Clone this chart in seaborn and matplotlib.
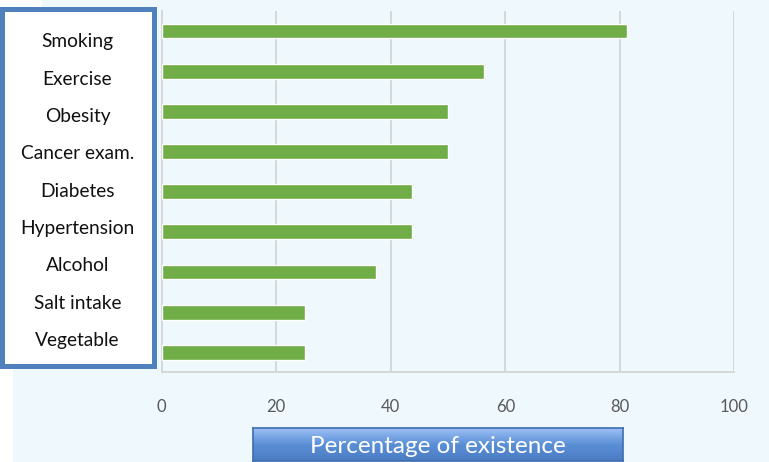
import numpy as np
import pandas as pd
import matplotlib
matplotlib.use("Agg")
import matplotlib.pyplot as plt
from matplotlib.patches import Rectangle
from matplotlib.colors import LinearSegmentedColormap
import seaborn as sns

categories = ["Smoking", "Exercise", "Obesity", "Cancer exam.", "Diabetes",
              "Hypertension", "Alcohol", "Salt intake", "Vegetable"]
values = [81.25, 56.25, 50, 50, 43.75, 43.75, 37.5, 25, 25]
xticks = [0, 20, 40, 60, 80, 100]
xlabel = "Percentage of existence"

df = pd.DataFrame({"category": categories, "value": values})

sns.set_theme(style="white")
plt.rcParams["font.family"] = ["Lato", "DejaVu Sans"]

W, H = 769, 462
fig = plt.figure(figsize=(W / 100, H / 100), dpi=100)
bg = "#eef8fd"
fig.patch.set_facecolor(bg)

def px(x0, y0, x1, y1):
    """pixel box (top-left origin) -> figure fraction rect"""
    return (x0 / W, 1 - y1 / H, (x1 - x0) / W, (y1 - y0) / H)

# white margins of the slide
for (a, b, c, d) in [(0, 0, 42, 8), (0, 367, 13, 462)]:
    l, bt, w, h = px(a, b, c, d)
    fig.add_artist(Rectangle((l, bt), w, h, transform=fig.transFigure,
                             facecolor="white", edgecolor="none", zorder=0))

ax = fig.add_axes([161.7 / W, 1 - 372.3 / H, (734.3 - 161.7) / W, (372.3 - 11) / H])
ax.set_facecolor("none")

sns.barplot(data=df, x="value", y="category", orient="h", color="#70ad47",
            saturation=1, width=0.37, ax=ax, zorder=3)

ax.set_xlim(0, 100)
ax.set_ylim(len(categories) - 0.5, -0.5)
ax.set_xticks(xticks)
ax.set_xticklabels([str(t) for t in xticks], fontsize=12, color="#595959")
ax.tick_params(axis="x", length=0, pad=19)
ax.set_yticks([])
ax.set_xlabel("")
ax.set_ylabel("")
for t in xticks[1:]:
    ax.axvline(t, color="#d4d4d4", lw=1.3, zorder=1)
for s in ["top", "right"]:
    ax.spines[s].set_visible(False)
for s in ["left", "bottom"]:
    ax.spines[s].set_color("#d4d4d4")
    ax.spines[s].set_linewidth(1.3)

# label box on the left
l, bt, w, h = px(2, 9, 154, 366)
fig.add_artist(Rectangle((l, bt), w, h, transform=fig.transFigure,
                         facecolor="white", edgecolor="#4f81bd", lw=3.6, zorder=5))
for i, c in enumerate(categories):
    ypx = 42 + i * 37.3
    fig.text(77.5 / W, 1 - ypx / H, c, ha="center", va="center",
             fontsize=13.8, color="#111111", zorder=6)

# title box with gradient
tax = fig.add_axes(px(253, 428, 623, 461))
grad = np.linspace(0, 1, 64).reshape(-1, 1)
cmap = LinearSegmentedColormap.from_list("g", ["#9dc0f5", "#5a8fd6", "#4a7cc4"])
tax.imshow(grad, aspect="auto", cmap=cmap, extent=[0, 1, 0, 1], origin="upper")
tax.set_xticks([])
tax.set_yticks([])
for s in tax.spines.values():
    s.set_color("#3e6db0")
    s.set_linewidth(1.2)
tax.text(0.5, 0.45, xlabel, ha="center", va="center", color="white",
         fontsize=17.5, transform=tax.transAxes)

fig.savefig("out.png", dpi=100, facecolor=fig.get_facecolor())
